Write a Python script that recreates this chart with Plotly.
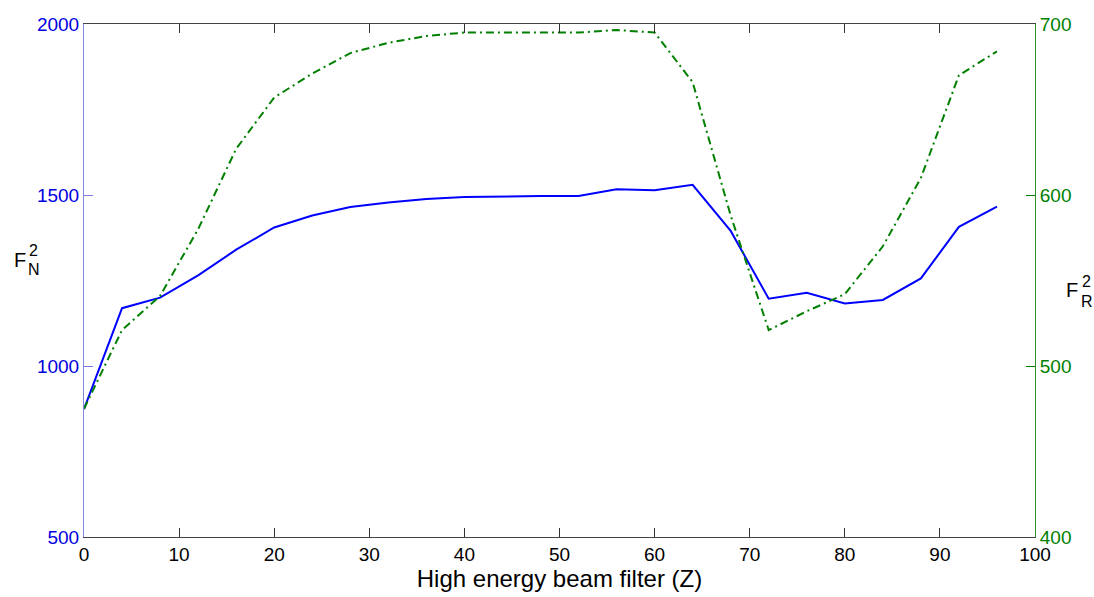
import plotly.graph_objects as go

z = [0, 4, 8, 12, 16, 20, 24, 28, 32, 36, 40, 44, 48, 52, 56, 60, 64, 68, 72, 76, 80, 84, 88, 92, 96]
fn2 = [874, 1169, 1200, 1265, 1340, 1405, 1440, 1465, 1478, 1488, 1494, 1496, 1497, 1497, 1517, 1514, 1530,
       1395, 1197, 1214, 1183, 1193, 1256, 1407, 1466]
fr2 = [475, 521, 541, 580, 627, 657, 671, 683, 689, 693, 695, 695, 695, 695, 696.5, 695, 666,
       588, 521, 532, 542, 570, 610, 670, 684]

x_ticks = [0, 10, 20, 30, 40, 50, 60, 70, 80, 90, 100]
left_ticks = [500, 1000, 1500, 2000]
right_ticks = [400, 500, 600, 700]

BLUE = "#0000ff"
GREEN = "#007f00"
FONT = "Liberation Sans"

fig = go.Figure()
fig.add_trace(go.Scatter(x=z, y=fn2, mode="lines", line=dict(color=BLUE, width=2), yaxis="y", showlegend=False))
fig.add_trace(go.Scatter(x=z, y=fr2, mode="lines", line=dict(color=GREEN, width=2, dash="8px,4px,2px,4px"),
                         yaxis="y2", showlegend=False))

W, H = 1094, 597
L, R, T, B = 84, 59, 24, 60
pw, ph = W - L - R, H - T - B


def px(xp):
    return (xp - L) / pw


def py(yp):
    return (H - B - yp) / ph


fig.update_layout(
    width=W, height=H,
    margin=dict(l=L, r=R, t=T, b=B, autoexpand=False),
    plot_bgcolor="white", paper_bgcolor="white",
    font=dict(family=FONT, size=19, color="black"),
    xaxis=dict(range=[0, 100], tickvals=x_ticks, ticks="inside", ticklen=9, tickcolor="#333",
               showline=True, linecolor="#444", linewidth=1, mirror="ticks", showgrid=False, zeroline=False,
               tickfont=dict(size=19, color="black"),
               title=dict(text="High energy beam filter (Z)", font=dict(size=24, color="black"), standoff=2)),
    yaxis=dict(range=[500, 2000], tickvals=left_ticks, ticks="inside", ticklen=9, tickcolor="#7a7ae0",
               showline=True, linecolor="#8585e0", linewidth=1, showgrid=False, zeroline=False,
               tickfont=dict(size=19, color="#0000e0")),
    yaxis2=dict(range=[400, 700], tickvals=right_ticks, ticks="inside", ticklen=9, tickcolor=GREEN,
                overlaying="y", side="right", showline=True, linecolor="#2f8f2f", linewidth=1,
                showgrid=False, zeroline=False, tickfont=dict(size=19, color=GREEN)),
)

ann = [
    ("F", 12, 260, 20), ("2", 27, 250, 16), ("N", 26, 269, 16),
    ("F", 1064, 290, 20), ("2", 1080, 281, 16), ("R", 1079, 301, 16),
]
for t, xp, yp, s in ann:
    fig.add_annotation(text=t, xref="paper", yref="paper", x=px(xp), y=py(yp), xanchor="left", yanchor="middle",
                       showarrow=False, font=dict(size=s, color="black", family=FONT))

fig.write_html("out.html", config={"displayModeBar": False},
               post_script="document.body.style.margin='0';document.body.style.overflow='hidden';")
